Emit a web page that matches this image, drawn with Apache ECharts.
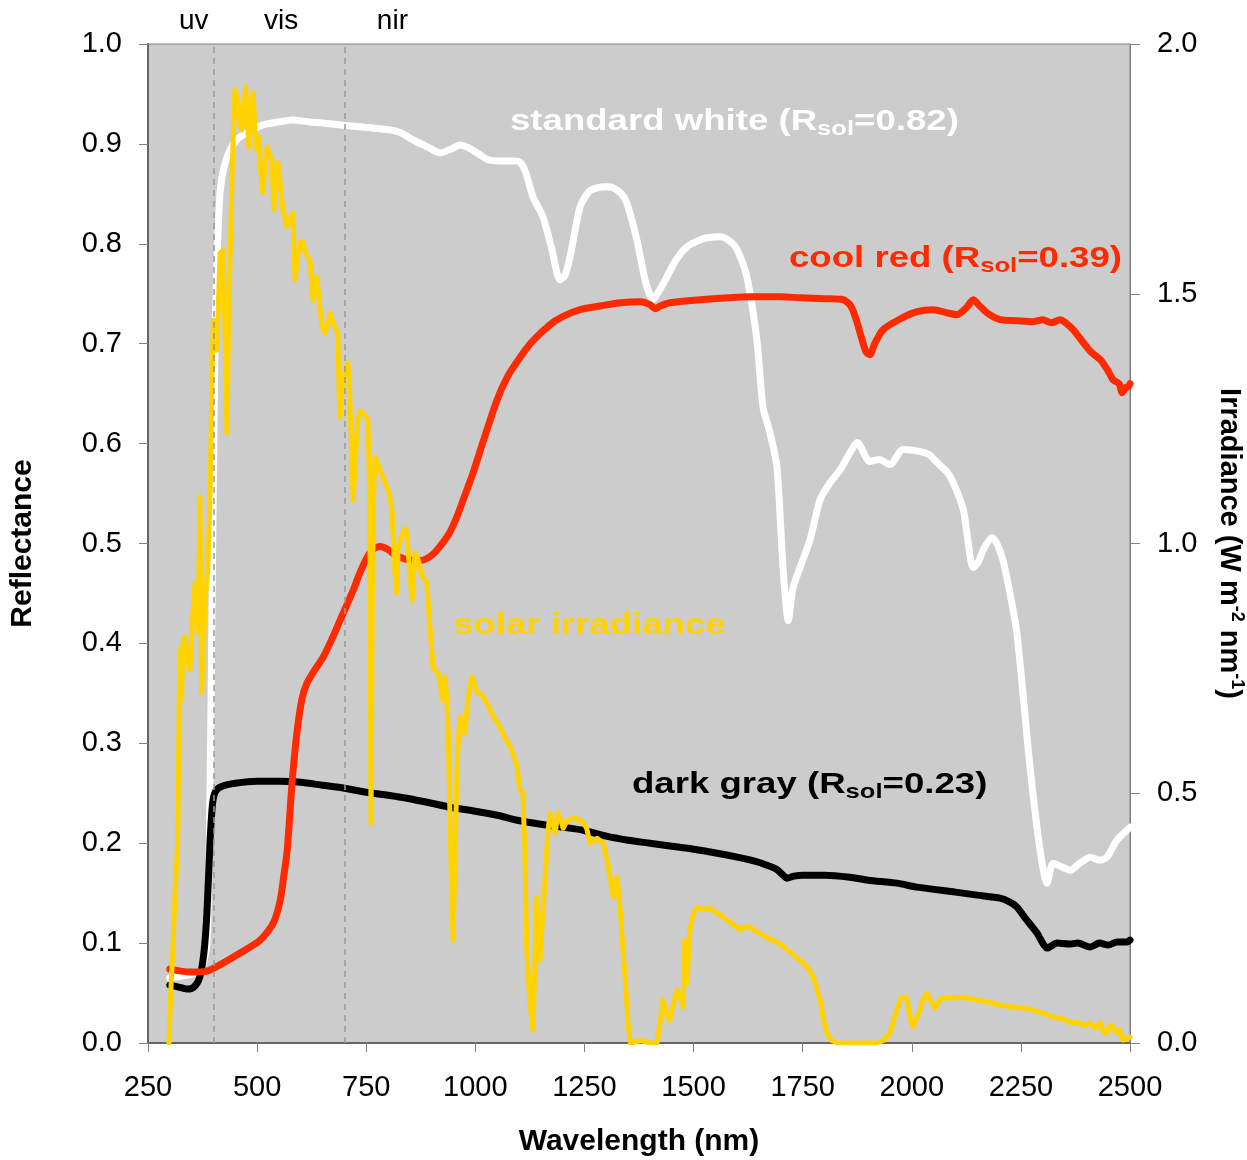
<!DOCTYPE html>
<html><head><meta charset="utf-8">
<script src="https://cdn.jsdelivr.net/npm/echarts@6/dist/echarts.min.js"></script>
<style>html,body{margin:0;padding:0;background:#fff}#c{width:1247px;height:1160px}</style>
</head><body><div id="c"></div>
<script>
// ---- axis settings ----
const xMin = 250, xMax = 2500, xStep = 250;
const reflMin = 0, reflMax = 1.0, reflStep = 0.1;
const irrMin = 0, irrMax = 2.0, irrStep = 0.5;

// ---- spectral regions ----
const regionBounds = [400, 700];
const regionNames = ['uv', 'vis', 'nir'];
const regionLabelNm = [355, 555, 810];

// ---- series labels ----
const labelWhite = ['standard white (R', 'sol', '=0.82)'];
const labelRed = ['cool red (R', 'sol', '=0.39)'];
const labelGray = ['dark gray (R', 'sol', '=0.23)'];
const labelSolar = 'solar irradiance';

// ---- standard white reflectance [nm, R] ----
const whiteData = [[300,0.065],[340,0.068],[370,0.072],[385,0.1],[392,0.25],[397,0.45],[403,0.684],[408,0.78],[415,0.851],[425,0.878],[438,0.894],[455,0.905],[477,0.911],[513,0.919],[550,0.922],[582,0.924],[620,0.922],[650,0.921],[690,0.919],[740,0.917],[805,0.914],[830,0.911],[857,0.904],[890,0.897],[919,0.891],[945,0.895],[965,0.899],[985,0.896],[1011,0.889],[1030,0.884],[1060,0.883],[1090,0.883],[1102,0.882],[1115,0.872],[1132,0.847],[1155,0.827],[1175,0.795],[1194,0.764],[1205,0.768],[1217,0.787],[1240,0.837],[1260,0.852],[1279,0.856],[1300,0.857],[1316,0.856],[1335,0.85],[1347,0.841],[1370,0.804],[1390,0.762],[1407,0.744],[1420,0.752],[1439,0.767],[1460,0.784],[1485,0.797],[1510,0.803],[1531,0.806],[1561,0.807],[1585,0.802],[1600,0.794],[1622,0.767],[1645,0.704],[1659,0.637],[1675,0.611],[1691,0.577],[1705,0.476],[1717,0.423],[1728,0.456],[1744,0.476],[1767,0.504],[1790,0.544],[1813,0.561],[1836,0.574],[1860,0.592],[1875,0.601],[1904,0.582],[1925,0.584],[1950,0.579],[1980,0.594],[2019,0.592],[2040,0.589],[2058,0.581],[2080,0.572],[2095,0.561],[2118,0.534],[2141,0.476],[2153,0.482],[2164,0.494],[2184,0.506],[2195,0.5],[2209,0.483],[2225,0.45],[2241,0.41],[2271,0.276],[2294,0.193],[2310,0.16],[2324,0.18],[2345,0.176],[2363,0.173],[2385,0.18],[2409,0.186],[2430,0.183],[2447,0.186],[2470,0.203],[2493,0.213],[2500,0.216]];

// ---- dark gray reflectance [nm, R] ----
const grayData = [[300,0.058],[320,0.056],[340,0.054],[355,0.056],[368,0.065],[378,0.09],[385,0.13],[392,0.2],[398,0.24],[405,0.252],[420,0.257],[450,0.26],[500,0.262],[550,0.262],[600,0.261],[650,0.258],[700,0.255],[750,0.251],[800,0.248],[843,0.245],[900,0.24],[942,0.236],[1000,0.232],[1050,0.228],[1096,0.223],[1150,0.219],[1200,0.216],[1247,0.213],[1300,0.207],[1350,0.203],[1400,0.2],[1450,0.197],[1500,0.194],[1554,0.19],[1600,0.186],[1640,0.182],[1668,0.178],[1690,0.174],[1705,0.168],[1714,0.165],[1730,0.167],[1750,0.168],[1800,0.168],[1858,0.166],[1900,0.163],[1966,0.16],[2012,0.156],[2100,0.151],[2150,0.148],[2202,0.145],[2225,0.141],[2241,0.136],[2260,0.125],[2287,0.11],[2300,0.1],[2310,0.095],[2333,0.1],[2360,0.099],[2380,0.1],[2409,0.096],[2430,0.1],[2450,0.098],[2470,0.101],[2493,0.101],[2500,0.103]];

// ---- cool red reflectance [nm, R] ----
const redData = [[300,0.074],[346,0.071],[385,0.072],[422,0.08],[461,0.09],[507,0.103],[537,0.12],[553,0.143],[562,0.17],[569,0.193],[580,0.26],[591,0.31],[603,0.345],[614,0.36],[630,0.372],[651,0.386],[670,0.403],[690,0.423],[720,0.453],[735,0.47],[752,0.486],[765,0.494],[782,0.497],[800,0.494],[811,0.49],[835,0.485],[857,0.483],[875,0.483],[889,0.485],[905,0.49],[919,0.497],[940,0.51],[958,0.527],[975,0.547],[995,0.571],[1020,0.605],[1050,0.644],[1075,0.668],[1102,0.686],[1130,0.702],[1171,0.719],[1200,0.727],[1240,0.734],[1290,0.738],[1332,0.741],[1380,0.742],[1400,0.739],[1412,0.735],[1425,0.738],[1446,0.741],[1515,0.744],[1580,0.746],[1630,0.747],[1700,0.747],[1744,0.746],[1800,0.745],[1843,0.744],[1860,0.738],[1872,0.725],[1882,0.71],[1895,0.692],[1904,0.689],[1915,0.7],[1934,0.714],[1970,0.724],[2012,0.732],[2050,0.734],[2080,0.731],[2104,0.729],[2125,0.736],[2141,0.744],[2155,0.738],[2175,0.73],[2202,0.724],[2240,0.723],[2278,0.722],[2300,0.724],[2320,0.721],[2340,0.724],[2355,0.72],[2370,0.714],[2393,0.701],[2410,0.692],[2432,0.684],[2448,0.674],[2461,0.664],[2475,0.66],[2482,0.651],[2490,0.656],[2496,0.657],[2500,0.66]];

// ---- solar irradiance [nm, W m-2 nm-1] ----
const solarData = [[298,0.0],[303,0.12],[307,0.186],[312,0.3],[318,0.4],[323,0.787],[327,0.687],[330,0.8],[334,0.813],[340,0.77],[346,0.747],[352,0.85],[358,0.921],[365,0.821],[369,1.093],[373,0.701],[381,0.887],[387,0.95],[392,1.087],[397,1.35],[400,1.447],[404,1.42],[408,1.387],[412,1.5],[415,1.581],[422,1.587],[426,1.45],[431,1.221],[434,1.4],[438,1.567],[443,1.75],[449,1.908],[456,1.888],[460,1.84],[465,1.828],[470,1.87],[474,1.914],[481,1.794],[486,1.85],[491,1.902],[497,1.788],[504,1.814],[508,1.75],[513,1.702],[518,1.75],[523,1.794],[528,1.78],[534,1.768],[538,1.668],[543,1.72],[548,1.762],[553,1.72],[559,1.668],[564,1.65],[569,1.634],[575,1.65],[582,1.662],[587,1.528],[594,1.58],[600,1.604],[605,1.604],[612,1.58],[621,1.567],[628,1.487],[633,1.52],[637,1.534],[643,1.48],[649,1.434],[656,1.421],[662,1.44],[667,1.461],[675,1.44],[685,1.421],[688,1.3],[690,1.253],[694,1.3],[697,1.327],[703,1.35],[708,1.361],[712,1.3],[717,1.181],[720,1.087],[726,1.18],[731,1.247],[737,1.265],[743,1.261],[748,1.255],[754,1.247],[758,1.1],[761,0.44],[764,0.9],[767,1.1],[770,1.173],[776,1.16],[782,1.147],[790,1.13],[797,1.113],[803,1.1],[809,1.067],[815,0.95],[820,0.901],[823,0.993],[829,1.01],[834,1.021],[839,1.03],[843,1.021],[849,0.95],[855,0.887],[862,0.981],[868,0.97],[873,0.953],[880,0.933],[889,0.921],[893,0.87],[896,0.833],[903,0.753],[909,0.745],[915,0.741],[920,0.72],[924,0.687],[928,0.71],[931,0.733],[935,0.68],[938,0.621],[942,0.45],[946,0.3],[949,0.206],[953,0.35],[958,0.55],[962,0.62],[965,0.653],[970,0.64],[976,0.621],[982,0.68],[987,0.71],[992,0.733],[998,0.72],[1004,0.701],[1010,0.7],[1018,0.693],[1030,0.675],[1041,0.653],[1052,0.64],[1063,0.621],[1072,0.605],[1080,0.593],[1088,0.575],[1096,0.553],[1102,0.507],[1109,0.501],[1113,0.4],[1118,0.186],[1125,0.08],[1132,0.026],[1136,0.15],[1141,0.292],[1145,0.2],[1148,0.166],[1154,0.25],[1160,0.332],[1166,0.42],[1171,0.46],[1177,0.44],[1183,0.42],[1189,0.46],[1195,0.45],[1201,0.43],[1210,0.445],[1224,0.45],[1235,0.448],[1247,0.442],[1255,0.43],[1263,0.4],[1271,0.405],[1279,0.41],[1286,0.405],[1293,0.4],[1302,0.366],[1309,0.33],[1316,0.292],[1320,0.31],[1325,0.332],[1332,0.266],[1338,0.19],[1344,0.12],[1350,0.04],[1355,0.0],[1380,0.005],[1400,0.0],[1416,0.0],[1423,0.04],[1430,0.086],[1438,0.06],[1446,0.046],[1454,0.08],[1462,0.106],[1470,0.09],[1476,0.072],[1480,0.206],[1485,0.12],[1490,0.2],[1492,0.23],[1500,0.26],[1508,0.272],[1520,0.268],[1530,0.27],[1538,0.27],[1546,0.265],[1554,0.26],[1565,0.254],[1577,0.246],[1590,0.238],[1600,0.232],[1607,0.226],[1615,0.232],[1630,0.232],[1645,0.222],[1659,0.216],[1675,0.208],[1691,0.202],[1705,0.194],[1721,0.182],[1735,0.172],[1751,0.16],[1762,0.15],[1774,0.132],[1782,0.11],[1790,0.086],[1798,0.045],[1806,0.02],[1815,0.006],[1829,0.0],[1870,0.0],[1920,0.0],[1935,0.005],[1950,0.02],[1960,0.05],[1966,0.066],[1975,0.09],[1983,0.092],[1989,0.09],[1996,0.05],[2003,0.032],[2010,0.05],[2019,0.066],[2027,0.09],[2035,0.1],[2043,0.085],[2053,0.07],[2065,0.088],[2081,0.09],[2100,0.091],[2127,0.09],[2150,0.086],[2175,0.082],[2202,0.076],[2230,0.072],[2255,0.07],[2278,0.066],[2300,0.06],[2315,0.055],[2333,0.05],[2350,0.048],[2365,0.04],[2379,0.042],[2395,0.035],[2410,0.04],[2420,0.03],[2432,0.04],[2440,0.022],[2447,0.02],[2455,0.035],[2461,0.032],[2470,0.02],[2477,0.025],[2484,0.006],[2492,0.008],[2500,0.012]];

// ---- styles ----
const FONT = "'Liberation Sans', Arial, Helvetica, sans-serif";
const C_WHITE = '#ffffff', C_RED = '#ff2a00', C_GRAY = '#000000', C_SOLAR = '#ffd200';
const AXIS_COLOR = '#808080';

const chart = echarts.init(document.getElementById('c'), null, {renderer: 'canvas'});

function lineSeries(name, data, color, width, yIdx, smooth) {
  return {
    name, type: 'line', data, yAxisIndex: yIdx, showSymbol: false, symbol: 'none',
    smooth: smooth, animation: false,
    lineStyle: {color, width, cap: 'round', join: 'round'}
  };
}

const option = {
  animation: false,
  backgroundColor: '#ffffff',
  grid: {left: 148, right: 117, top: 44, bottom: 117, show: true, containLabel: false,
         outerBoundsMode: 'none',
         backgroundColor: '#cccccc', borderColor: AXIS_COLOR, borderWidth: 1},
  xAxis: {
    type: 'value', min: xMin, max: xMax, interval: xStep,
    name: 'Wavelength (nm)', nameLocation: 'middle', nameGap: 84,
    nameTextStyle: {fontFamily: FONT, fontSize: 30, fontWeight: 'bold', color: '#000'},
    axisLine: {show: true, lineStyle: {color: '#666', width: 2}},
    axisTick: {show: true, inside: false, length: 9, lineStyle: {color: AXIS_COLOR}},
    axisLabel: {fontFamily: FONT, fontSize: 29, color: '#000', margin: 30, formatter: v => String(v)},
    splitLine: {show: false}
  },
  yAxis: [{
    type: 'value', min: reflMin, max: reflMax, interval: reflStep, position: 'left',
    name: 'Reflectance', nameLocation: 'middle', nameGap: 110, nameRotate: 90,
    nameTextStyle: {fontFamily: FONT, fontSize: 30, fontWeight: 'bold', color: '#000'},
    axisLine: {show: true, lineStyle: {color: '#666', width: 2}},
    axisTick: {show: true, length: 9, lineStyle: {color: AXIS_COLOR}},
    axisLabel: {fontFamily: FONT, fontSize: 29, color: '#000', margin: 26, formatter: v => v.toFixed(1)},
    splitLine: {show: false}
  }, {
    type: 'value', min: irrMin, max: irrMax, interval: irrStep, position: 'right',
    name: '{a|Irradiance (W m}{b|-2}{a| nm}{b|-1}{a|)}', nameLocation: 'middle', nameGap: 82, nameRotate: -90,
    nameTextStyle: {
      fontFamily: FONT, fontSize: 29, fontWeight: 'bold', color: '#000',
      rich: {
        a: {fontFamily: FONT, fontSize: 29, fontWeight: 'bold', color: '#000', lineHeight: 34},
        b: {fontFamily: FONT, fontSize: 18, fontWeight: 'bold', color: '#000', lineHeight: 18, verticalAlign: 'top'}
      }
    },
    axisLine: {show: true, lineStyle: {color: AXIS_COLOR, width: 1}},
    axisTick: {show: true, length: 10, lineStyle: {color: AXIS_COLOR}},
    axisLabel: {fontFamily: FONT, fontSize: 29, color: '#000', margin: 27, formatter: v => v.toFixed(1)},
    splitLine: {show: false}
  }],
  series: [
    {
      name: 'regions', type: 'line', data: [], yAxisIndex: 0, silent: true,
      markLine: {
        silent: true, symbol: 'none', animation: false,
        label: {show: false},
        lineStyle: {color: '#999999', type: [6, 5], width: 1.5},
        data: regionBounds.map(v => ({xAxis: v}))
      }
    },
    lineSeries('standard white', whiteData, C_WHITE, 7, 0, 0.25),
    lineSeries('dark gray', grayData, C_GRAY, 7, 0, 0.25),
    lineSeries('cool red', redData, C_RED, 7, 0, 0.25),
    lineSeries('solar irradiance', solarData, C_SOLAR, 5, 1, false)
  ]
};
chart.setOption(option);

// ---- text annotations ----
function richLabel(parts, color, x, y) {
  return {
    type: 'text', x, y, scaleX: 1.22, silent: true, z: 100,
    style: {
      text: '{m|' + parts[0] + '}{s|' + parts[1] + '}{m|' + parts[2] + '}',
      align: 'left', verticalAlign: 'middle',
      rich: {
        m: {fill: color, fontSize: 30, fontWeight: 'bold', fontFamily: FONT, lineHeight: 36},
        s: {fill: color, fontSize: 21, fontWeight: 'bold', fontFamily: FONT, lineHeight: 14, verticalAlign: 'bottom'}
      }
    }
  };
}
const graphics = [
  richLabel(labelWhite, C_WHITE, 510, 122),
  richLabel(labelRed, C_RED, 789, 259),
  richLabel(labelGray, C_GRAY, 632, 785),
  {
    type: 'text', x: 453, y: 626, scaleX: 1.22, silent: true, z: 100,
    style: {text: labelSolar, fill: C_SOLAR, font: 'bold 30px ' + FONT, align: 'left', verticalAlign: 'middle'}
  }
];
regionNames.forEach((n, i) => {
  const px = chart.convertToPixel({xAxisIndex: 0}, regionLabelNm[i]);
  graphics.push({
    type: 'text', x: px, y: 21, silent: true,
    style: {text: n, fill: '#000', font: '28px ' + FONT, align: 'center', verticalAlign: 'middle'}
  });
});
chart.setOption({graphic: graphics});
</script>
</body></html>
